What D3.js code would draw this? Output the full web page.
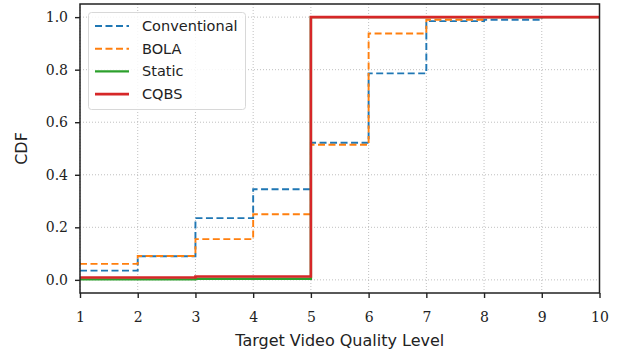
<!DOCTYPE html>
<html>
<head>
<meta charset="utf-8">
<script src="https://cdn.jsdelivr.net/npm/d3@7"></script>
<style>
  html, body { margin: 0; padding: 0; background: #fff; }
  svg { display: block; }
</style>
</head>
<body>
<svg id="chart" width="620" height="353"></svg>
<script>
// Quality levels (x) and cumulative share per scheme (step "post")
const levels = [1, 2, 3, 4, 5, 6, 7, 8, 9, 10];
const conventional = [0.035, 0.09, 0.235, 0.345, 0.522, 0.786, 0.985, 0.99, 1.0, 1.0];
const bola = [0.061, 0.091, 0.155, 0.25, 0.514, 0.938, 0.99, 1.0, 1.0, 1.0];
const staticScheme = [0.002, 0.002, 0.004, 0.004, 1.0, 1.0, 1.0, 1.0, 1.0, 1.0];
const cqbs = [0.009, 0.009, 0.013, 0.013, 1.0, 1.0, 1.0, 1.0, 1.0, 1.0];
const xTicks = [1, 2, 3, 4, 5, 6, 7, 8, 9, 10];
const yTicks = [0.0, 0.2, 0.4, 0.6, 0.8, 1.0];

const series = [
  { name: "Conventional", values: conventional, color: "#1f77b4", dash: "7,3.5", width: 1.9 },
  { name: "BOLA", values: bola, color: "#ff7f0e", dash: "7,3.5", width: 1.9 },
  { name: "Static", values: staticScheme, color: "#2ca02c", dash: null, width: 2.4 },
  { name: "CQBS", values: cqbs, color: "#d62728", dash: null, width: 2.6 }
];

const svg = d3.select("#chart");
const plotLeft = 80, plotRight = 599.5, plotTop = 4, plotBottom = 293;

const x = d3.scaleLinear().domain([1, 10]).range([plotLeft, plotRight]);
const y = d3.scaleLinear().domain([-0.05, 1.05]).range([plotBottom, plotTop]);

const serif = "'DejaVu Serif', 'Liberation Serif', serif";
const sans = "'DejaVu Sans', sans-serif";

// grid
const grid = svg.append("g");
grid.selectAll(".gx").data(xTicks).enter().append("line")
  .attr("x1", d => x(d)).attr("x2", d => x(d))
  .attr("y1", plotTop).attr("y2", plotBottom)
  .attr("stroke", "#b0b0b0").attr("stroke-width", 0.8).attr("stroke-dasharray", "1,2");
grid.selectAll(".gy").data(yTicks).enter().append("line")
  .attr("x1", plotLeft).attr("x2", plotRight)
  .attr("y1", d => y(d)).attr("y2", d => y(d))
  .attr("stroke", "#b0b0b0").attr("stroke-width", 0.8).attr("stroke-dasharray", "1,2");

// step lines
const line = d3.line()
  .x((d, i) => x(levels[i]))
  .y(d => y(d))
  .curve(d3.curveStepAfter);

const plot = svg.append("g");
series.forEach(s => {
  plot.append("path")
    .attr("d", line(s.values))
    .attr("fill", "none")
    .attr("stroke", s.color)
    .attr("stroke-width", s.width)
    .attr("stroke-dasharray", s.dash)
    .attr("stroke-linejoin", "miter");
});

// axes
const xAxis = d3.axisBottom(x).tickValues(xTicks).tickSize(5).tickPadding(14)
  .tickFormat(d3.format("d"));
const yAxis = d3.axisLeft(y).tickValues(yTicks).tickSize(5).tickPadding(7)
  .tickFormat(d3.format(".1f"));

const gx = svg.append("g").attr("transform", `translate(0,${plotBottom})`).call(xAxis);
const gy = svg.append("g").attr("transform", `translate(${plotLeft},0)`).call(yAxis);
[gx, gy].forEach(g => {
  g.select(".domain").remove();
  g.selectAll(".tick line").attr("stroke", "#222").attr("stroke-width", 1.4);
  g.selectAll(".tick text").attr("fill", "#222").style("font-family", serif).style("font-size", "14px");
});

// frame
svg.append("rect")
  .attr("x", plotLeft).attr("y", plotTop)
  .attr("width", plotRight - plotLeft).attr("height", plotBottom - plotTop)
  .attr("fill", "none").attr("stroke", "#222").attr("stroke-width", 1.5);

// axis titles
svg.append("text")
  .attr("x", (plotLeft + plotRight) / 2).attr("y", 346)
  .attr("text-anchor", "middle")
  .style("font-family", sans).style("font-size", "16px").attr("fill", "#222")
  .text("Target Video Quality Level");
svg.append("text")
  .attr("transform", `translate(27,${(plotTop + plotBottom) / 2}) rotate(-90)`)
  .attr("text-anchor", "middle")
  .style("font-family", sans).style("font-size", "16px").attr("fill", "#222")
  .text("CDF");

// legend
const legend = svg.append("g");
legend.append("rect")
  .attr("x", 88.5).attr("y", 12.5).attr("width", 157).attr("height", 97)
  .attr("rx", 3).attr("fill", "#fff").attr("fill-opacity", 0.85)
  .attr("stroke", "#d8d8d8").attr("stroke-width", 1);
series.forEach((s, i) => {
  const ly = 26 + i * 22.7;
  legend.append("line")
    .attr("x1", 95).attr("x2", 129).attr("y1", ly).attr("y2", ly)
    .attr("stroke", s.color).attr("stroke-width", s.width)
    .attr("stroke-dasharray", s.dash);
  legend.append("text")
    .attr("x", 142).attr("y", ly + 5)
    .style("font-family", sans).style("font-size", "14.5px").attr("fill", "#222")
    .text(s.name);
});
</script>
</body>
</html>
